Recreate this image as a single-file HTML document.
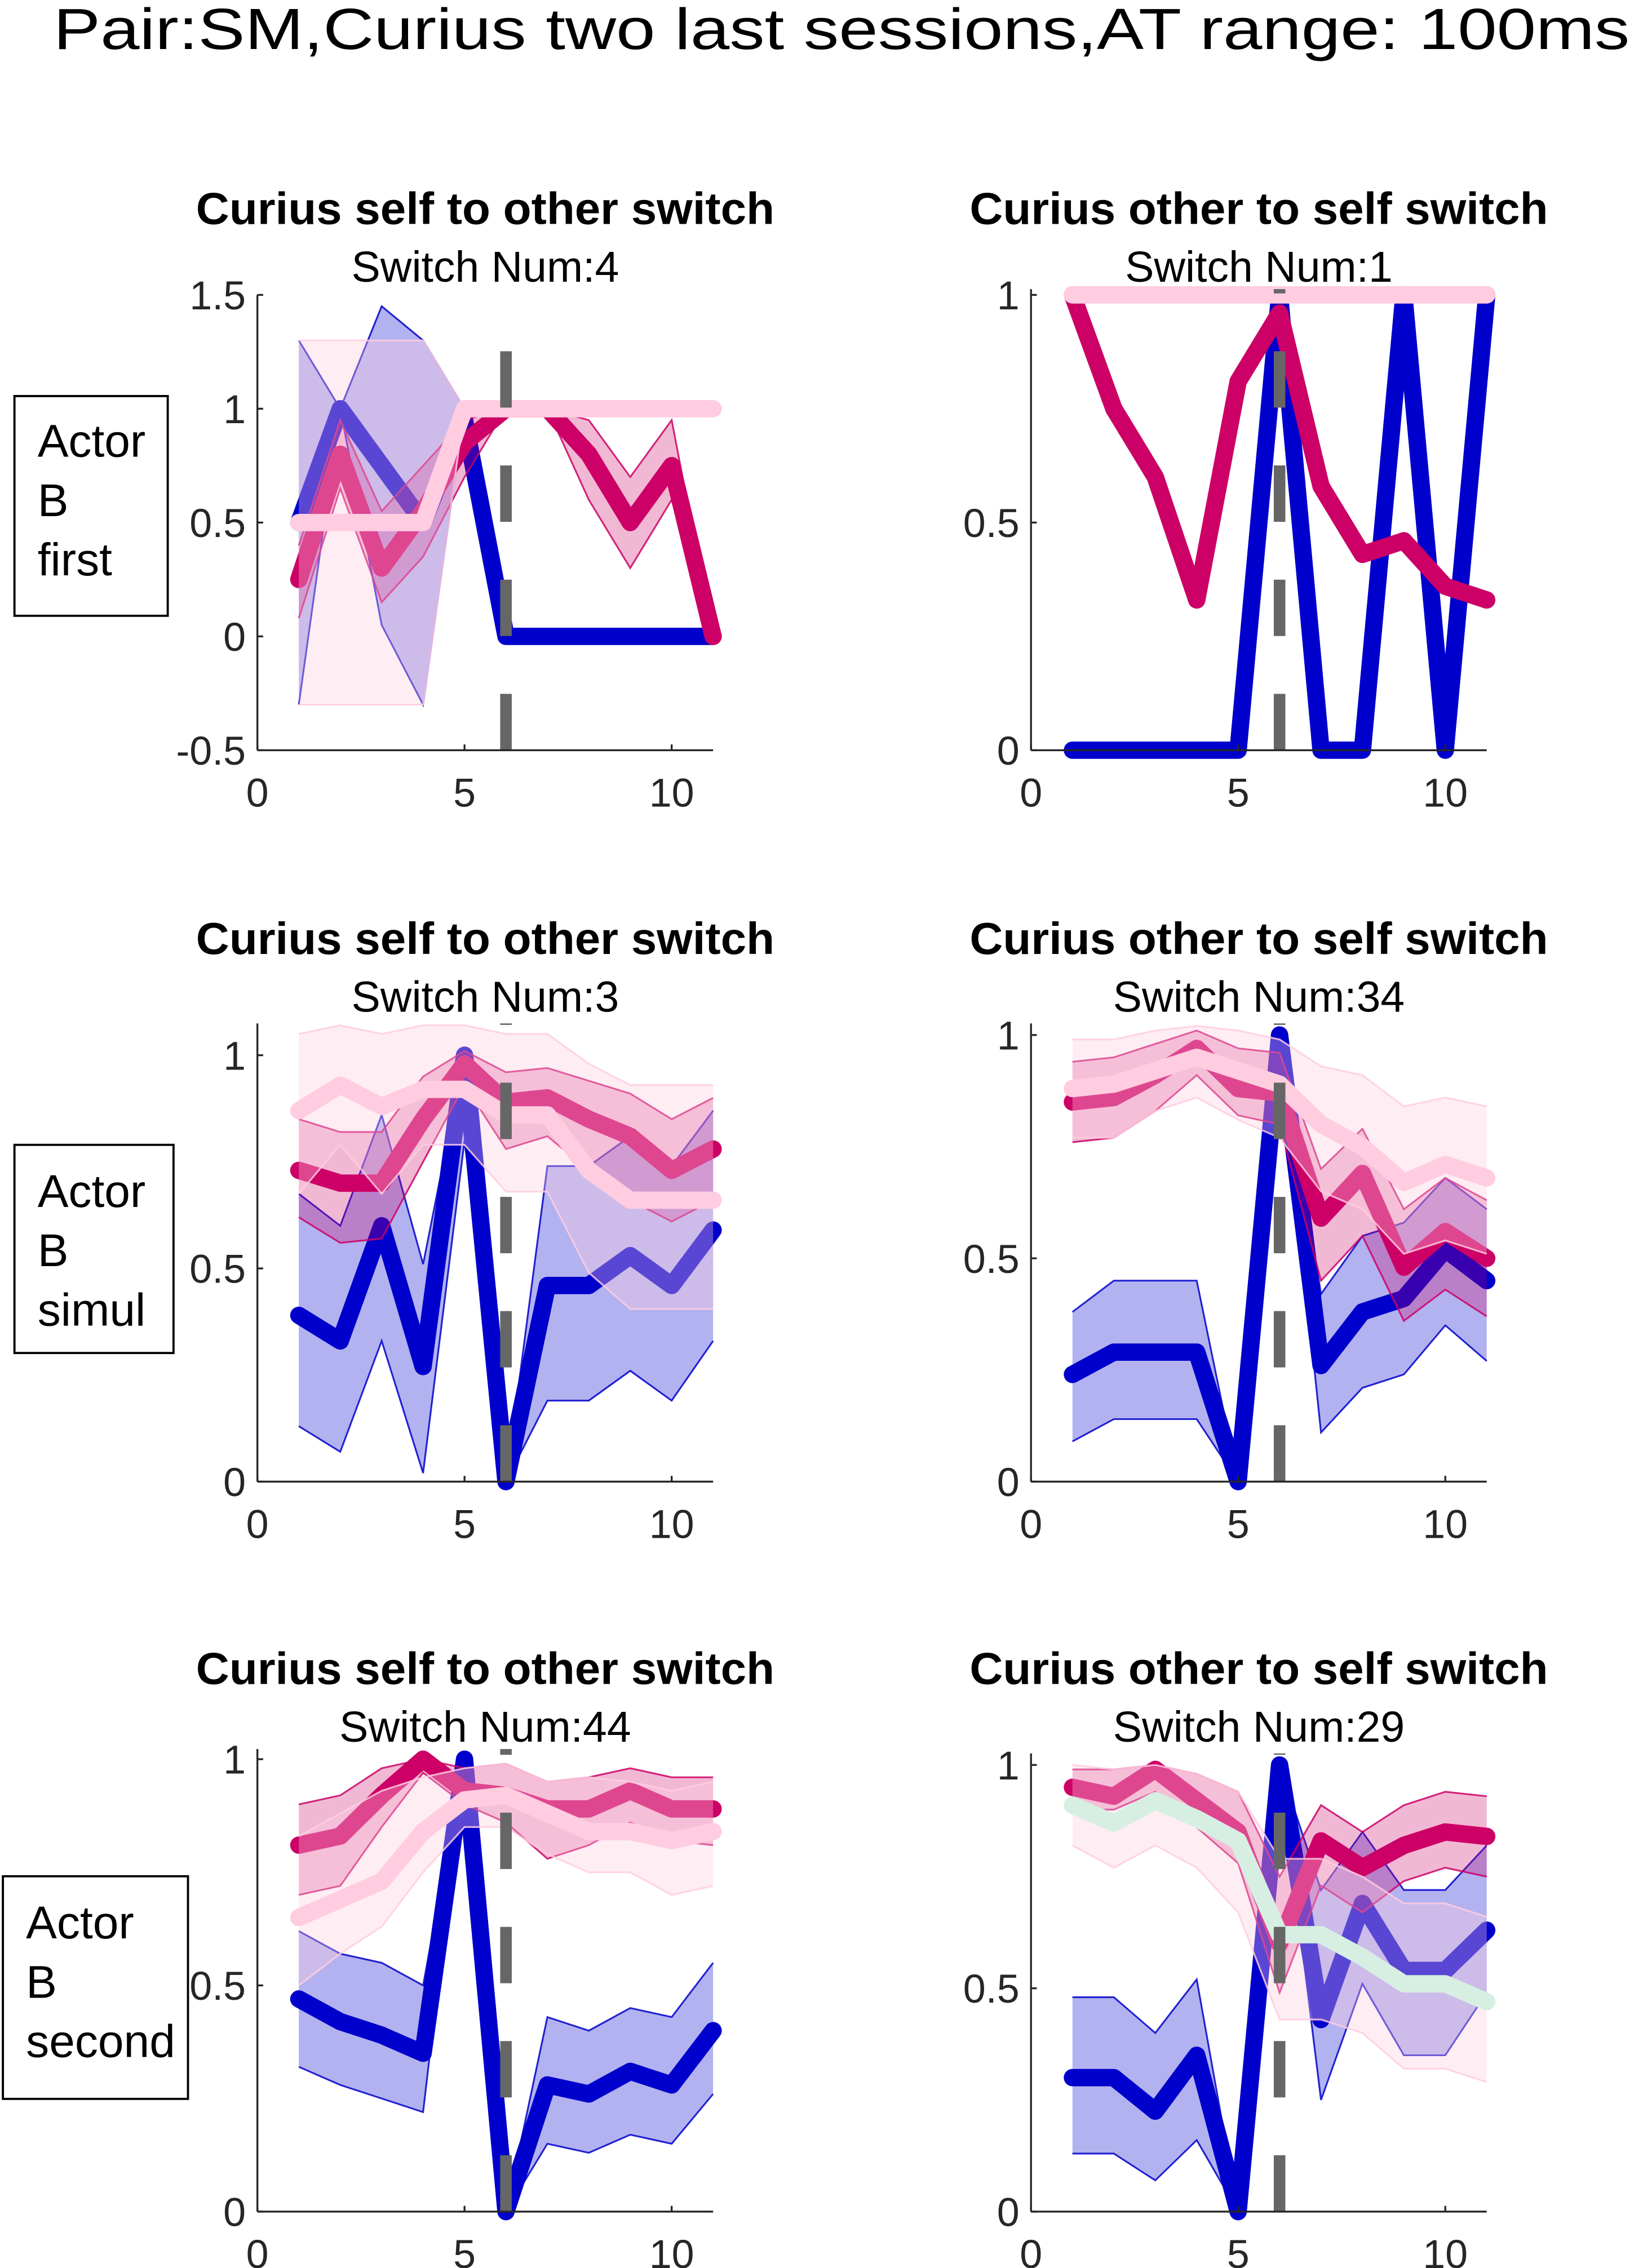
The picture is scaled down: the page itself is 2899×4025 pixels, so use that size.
<!DOCTYPE html>
<html><head><meta charset="utf-8">
<style>
html,body{margin:0;padding:0;background:#fff;}
svg{display:block;}
text{font-family:"Liberation Sans",Arial,sans-serif;}
</style></head>
<body>
<svg id="fig" width="2899" height="4025" viewBox="0 0 1130 1569" preserveAspectRatio="none" xmlns="http://www.w3.org/2000/svg">
<rect x="0" y="0" width="1130" height="1569" fill="#fff"/>
<text x="582" y="34" font-size="40" text-anchor="middle" fill="#000" textLength="1090" lengthAdjust="spacingAndGlyphs">Pair:SM,Curius two last sessions,AT range: 100ms</text>
<g>
<rect x="10" y="274" width="106" height="152" fill="none" stroke="#000" stroke-width="1.5"/>
<text x="26" y="316" font-size="32">Actor</text><text x="26" y="357" font-size="32">B</text><text x="26" y="398" font-size="32">first</text>
</g>
<g>
<rect x="10" y="792" width="110" height="144" fill="none" stroke="#000" stroke-width="1.5"/>
<text x="26" y="835" font-size="32">Actor</text><text x="26" y="876" font-size="32">B</text><text x="26" y="917" font-size="32">simul</text>
</g>
<g>
<rect x="2" y="1298" width="128" height="154" fill="none" stroke="#000" stroke-width="1.5"/>
<text x="18" y="1341" font-size="32">Actor</text><text x="18" y="1382" font-size="32">B</text><text x="18" y="1423" font-size="32">second</text>
</g>
<g id="panels"></g>
</svg>
<script>
// x categories (trial index)
const xs = [1,2,3,4,5,6,7,8,9,10,11];
const switchPos = 6;
// Panel 1 (self->other, first)
const p1Blue = [0.5,1.0,0.75,0.5,0.95,0,0,0,0,0,0];
const p1BlueHi = [1.3,1.0,1.45,1.3,1.0,0,0,0,0,0,0];
const p1BlueLo = [-0.3,1.0,0.05,-0.3,1.0,0,0,0,0,0,0];
const p1Mag = [0.25,0.8,0.3,0.55,0.85,1,1,0.8,0.5,0.75,0];
const p1MagHi = [0.4,0.95,0.55,0.75,0.95,1,1,0.95,0.7,0.95,0];
const p1MagLo = [0.08,0.65,0.15,0.35,0.7,1,1,0.6,0.3,0.6,0];
const p1Pink = [0.5,0.5,0.5,0.5,1,1,1,1,1,1,1];
const p1PinkHi = [1.3,1.3,1.3,1.3,1,1,1,1,1,1,1];
const p1PinkLo = [-0.3,-0.3,-0.3,-0.3,1,1,1,1,1,1,1];
// Panel 2 (other->self, first)
const p2Blue = [0,0,0,0,0,1,0,0,1,0,1];
const p2Mag = [1,0.75,0.6,0.33,0.81,0.96,0.58,0.43,0.46,0.36,0.33];
const p2Pink = [1,1,1,1,1,1,1,1,1,1,1];
// Panel 3 (self->other, simul)
const p3Blue = [0.39,0.33,0.6,0.27,1.0,0,0.46,0.46,0.53,0.46,0.59];
const p3BlueHi = [0.675,0.6,0.86,0.51,1.0,0,0.74,0.74,0.81,0.74,0.87];
const p3BlueLo = [0.13,0.07,0.33,0.02,0.8,0,0.19,0.19,0.26,0.19,0.33];
const p3Mag = [0.73,0.7,0.7,0.85,0.98,0.89,0.9,0.85,0.81,0.73,0.78];
const p3MagHi = [0.85,0.82,0.82,0.95,1.01,0.96,0.97,0.94,0.91,0.85,0.9];
const p3MagLo = [0.62,0.56,0.57,0.75,0.93,0.78,0.81,0.73,0.66,0.61,0.66];
const p3Pink = [0.87,0.93,0.88,0.92,0.92,0.86,0.86,0.73,0.66,0.66,0.66];
const p3PinkHi = [1.05,1.07,1.05,1.07,1.07,1.05,1.05,0.98,0.93,0.93,0.93];
const p3PinkLo = [0.675,0.79,0.675,0.79,0.79,0.68,0.68,0.49,0.405,0.405,0.405];
// Panel 4 (other->self, simul)
const p4Blue = [0.24,0.29,0.29,0.29,0,1.0,0.26,0.38,0.41,0.52,0.45];
const p4BlueHi = [0.38,0.45,0.45,0.45,0,1,0.42,0.55,0.58,0.68,0.61];
const p4BlueLo = [0.09,0.14,0.14,0.14,0,1,0.11,0.21,0.24,0.35,0.27];
const p4Mag = [0.85,0.86,0.91,0.97,0.88,0.87,0.59,0.69,0.48,0.56,0.5];
const p4MagHi = [0.94,0.95,0.98,1.01,0.97,0.96,0.7,0.79,0.61,0.68,0.63];
const p4MagLo = [0.76,0.77,0.83,0.91,0.82,0.8,0.45,0.55,0.36,0.43,0.37];
const p4Pink = [0.88,0.89,0.92,0.95,0.92,0.89,0.8,0.75,0.67,0.71,0.68];
const p4PinkHi = [0.99,0.99,1.01,1.02,1.01,0.99,0.93,0.91,0.84,0.86,0.84];
const p4PinkLo = [0.77,0.77,0.83,0.86,0.81,0.77,0.65,0.61,0.51,0.54,0.51];
// Panel 5 (self->other, second)
const p5Blue = [0.47,0.42,0.39,0.35,1.0,0,0.28,0.26,0.31,0.28,0.4];
const p5BlueHi = [0.62,0.57,0.55,0.5,1,0,0.43,0.4,0.45,0.43,0.55];
const p5BlueLo = [0.32,0.28,0.25,0.22,1,0,0.15,0.13,0.17,0.15,0.26];
const p5Mag = [0.81,0.83,0.92,1.0,0.93,0.92,0.89,0.89,0.93,0.89,0.89];
const p5MagHi = [0.9,0.92,0.98,1.0,0.98,0.99,0.95,0.96,0.98,0.96,0.96];
const p5MagLo = [0.7,0.72,0.85,0.97,0.9,0.86,0.78,0.81,0.86,0.82,0.81];
const p5Pink = [0.65,0.69,0.73,0.84,0.91,0.92,0.88,0.84,0.84,0.82,0.84];
const p5PinkHi = [0.83,0.88,0.93,0.96,0.98,0.99,0.95,0.96,0.95,0.93,0.95];
const p5PinkLo = [0.5,0.57,0.63,0.75,0.85,0.85,0.79,0.75,0.75,0.7,0.72];
// Panel 6 (other->self, second)
const p6Blue = [0.3,0.3,0.225,0.35,0,1.0,0.43,0.69,0.54,0.54,0.63];
const p6BlueHi = [0.48,0.48,0.4,0.52,0,1,0.72,0.85,0.72,0.72,0.82];
const p6BlueLo = [0.13,0.13,0.07,0.16,0,1,0.25,0.51,0.35,0.35,0.49];
const p6Mag = [0.95,0.93,0.99,0.92,0.85,0.6,0.83,0.77,0.82,0.85,0.84];
const p6MagHi = [0.99,0.99,1.0,0.98,0.94,0.75,0.91,0.85,0.91,0.94,0.93];
const p6MagLo = [0.9,0.9,0.94,0.86,0.78,0.49,0.73,0.67,0.74,0.77,0.75];
const p6PinkHi = [1.0,0.99,1.0,0.98,0.94,0.79,0.79,0.75,0.69,0.69,0.66];
const p6PinkLo = [0.82,0.77,0.82,0.77,0.67,0.43,0.43,0.4,0.32,0.32,0.29];
const p6Mint = [0.91,0.87,0.92,0.88,0.83,0.62,0.62,0.57,0.51,0.51,0.47];

const titles = ["Curius self to other switch","Curius other to self switch"];
const switchNums = ["Switch Num:4","Switch Num:1","Switch Num:3","Switch Num:34","Switch Num:44","Switch Num:29"];
const xTicks = [0,5,10];
const yTicksA = [-0.5,0,0.5,1,1.5];
const yTicksB = [0,0.5,1];

const NS="http://www.w3.org/2000/svg";
const root=document.getElementById('panels');
function mk(tag,attrs,parent){const e=document.createElementNS(NS,tag);for(const k in attrs)e.setAttribute(k,attrs[k]);parent.appendChild(e);return e;}
function fmt(v){return v===-0.5?"-0.5":String(v);}

const BLUE="#0000cc",MAG="#cc0066",PINK="#ffcce0",MINT="#d6efe2";
const layouts=[
 {x0:178,ymin:-0.5,ymax:1.5,yTop:204,yBot:519,ticks:yTicksA,top:204},
 {x0:713,ymin:0,ymax:1,yTop:204,yBot:519,ticks:yTicksB,top:200},
 {x0:178,ymin:0,ymax:1,yTop:730,yBot:1025,ticks:yTicksB,top:708},
 {x0:713,ymin:0,ymax:1,yTop:716,yBot:1025,ticks:yTicksB,top:708},
 {x0:178,ymin:0,ymax:1,yTop:1217,yBot:1530,ticks:yTicksB,top:1210},
 {x0:713,ymin:0,ymax:1,yTop:1221,yBot:1530,ticks:yTicksB,top:1213}
];
const panelSeries=[
 [{m:p1Blue,hi:p1BlueHi,lo:p1BlueLo,c:BLUE,n:'blue'},{m:p1Mag,hi:p1MagHi,lo:p1MagLo,c:MAG,n:'magenta'},{m:p1Pink,hi:p1PinkHi,lo:p1PinkLo,c:PINK,n:'pink'}],
 [{m:p2Blue,c:BLUE,n:'blue'},{m:p2Mag,c:MAG,n:'magenta'},{m:p2Pink,c:PINK,n:'pink'}],
 [{m:p3Blue,hi:p3BlueHi,lo:p3BlueLo,c:BLUE,n:'blue'},{m:p3Mag,hi:p3MagHi,lo:p3MagLo,c:MAG,n:'magenta'},{m:p3Pink,hi:p3PinkHi,lo:p3PinkLo,c:PINK,n:'pink'}],
 [{m:p4Blue,hi:p4BlueHi,lo:p4BlueLo,c:BLUE,n:'blue'},{m:p4Mag,hi:p4MagHi,lo:p4MagLo,c:MAG,n:'magenta'},{m:p4Pink,hi:p4PinkHi,lo:p4PinkLo,c:PINK,n:'pink'}],
 [{m:p5Blue,hi:p5BlueHi,lo:p5BlueLo,c:BLUE,n:'blue'},{m:p5Mag,hi:p5MagHi,lo:p5MagLo,c:MAG,n:'magenta'},{m:p5Pink,hi:p5PinkHi,lo:p5PinkLo,c:PINK,n:'pink'}],
 [{m:p6Blue,hi:p6BlueHi,lo:p6BlueLo,c:BLUE,n:'blue'},{m:p6Mag,hi:p6MagHi,lo:p6MagLo,c:MAG,n:'magenta'},{hi:p6PinkHi,lo:p6PinkLo,c:PINK,n:'pink'},{m:p6Mint,c:MINT,n:'mint'}]
];
const fillAlpha={blue:0.3,magenta:0.28,pink:0.35};

layouts.forEach((L,i)=>{
 const g=mk('g',{},root);
 
 
 const ux=28.65;
 const X=v=>L.x0+v*ux;
 const Y=v=>L.yBot-(v-L.ymin)/(L.ymax-L.ymin)*(L.yBot-L.yTop);
 const cx=L.x0+5.5*ux;
 const tt=mk('text',{x:cx,y:Math.floor(i/2)*505+155,'font-size':31,'font-weight':'bold','text-anchor':'middle',textLength:400,lengthAdjust:'spacingAndGlyphs'},g);
 tt.textContent=titles[i%2];
 
 
 const st=mk('text',{x:cx,y:Math.floor(i/2)*505+195,'font-size':30,'text-anchor':'middle'},g);
 st.textContent=switchNums[i];
 
 
 panelSeries[i].forEach(s=>{
  if(s.hi){
   let d='M'+xs.map((x,k)=>X(x)+','+Y(s.hi[k])).join('L')+'L'+xs.slice().reverse().map((x,k)=>X(x)+','+Y(s.lo[10-k])).join('L')+'Z';
   const b=mk('path',{d:d,fill:s.c,'fill-opacity':fillAlpha[s.n],stroke:'none'},g);
   
   
   const e1=mk('path',{d:'M'+xs.map((x,k)=>X(x)+','+Y(s.hi[k])).join('L'),fill:'none',stroke:s.c,'stroke-width':1.2,'stroke-opacity':0.85},g);
   
   
   const e2=mk('path',{d:'M'+xs.map((x,k)=>X(x)+','+Y(s.lo[k])).join('L'),fill:'none',stroke:s.c,'stroke-width':1.2,'stroke-opacity':0.85},g);
   
   
  }
  if(s.m){
   const ln=mk('path',{d:'M'+xs.map((x,k)=>X(x)+','+Y(s.m[k])).join('L'),fill:'none',stroke:s.c,'stroke-width':12,'stroke-linejoin':'round','stroke-linecap':'round'},g);
   
   
  }
 });
 const dl=mk('line',{x1:X(switchPos),x2:X(switchPos),y1:L.yBot,y2:L.top,stroke:'#666','stroke-width':8,'stroke-dasharray':'39 40'},g);
 
 
 const ya=mk('line',{x1:L.x0,x2:L.x0,y1:L.top,y2:L.yBot,stroke:'#262626','stroke-width':1.3},g);
 
 
 const xa=mk('line',{x1:L.x0,x2:X(11),y1:L.yBot,y2:L.yBot,stroke:'#262626','stroke-width':1.3},g);
 
 
 L.ticks.forEach(t=>{
  mk('line',{x1:L.x0,x2:L.x0+4,y1:Y(t),y2:Y(t),stroke:'#262626','stroke-width':1.3},g);
  const tl=mk('text',{x:L.x0-8,y:Y(t)+10,'font-size':28,'text-anchor':'end',fill:'#262626'},g);
  tl.textContent=fmt(t);
  
  
 });
 xTicks.forEach(t=>{
  mk('line',{x1:X(t),x2:X(t),y1:L.yBot,y2:L.yBot-4,stroke:'#262626','stroke-width':1.3},g);
  const tl=mk('text',{x:X(t),y:L.yBot+39,'font-size':28,'text-anchor':'middle',fill:'#262626'},g);
  tl.textContent=String(t);
  
  
 });
});
</script>
</body></html>
